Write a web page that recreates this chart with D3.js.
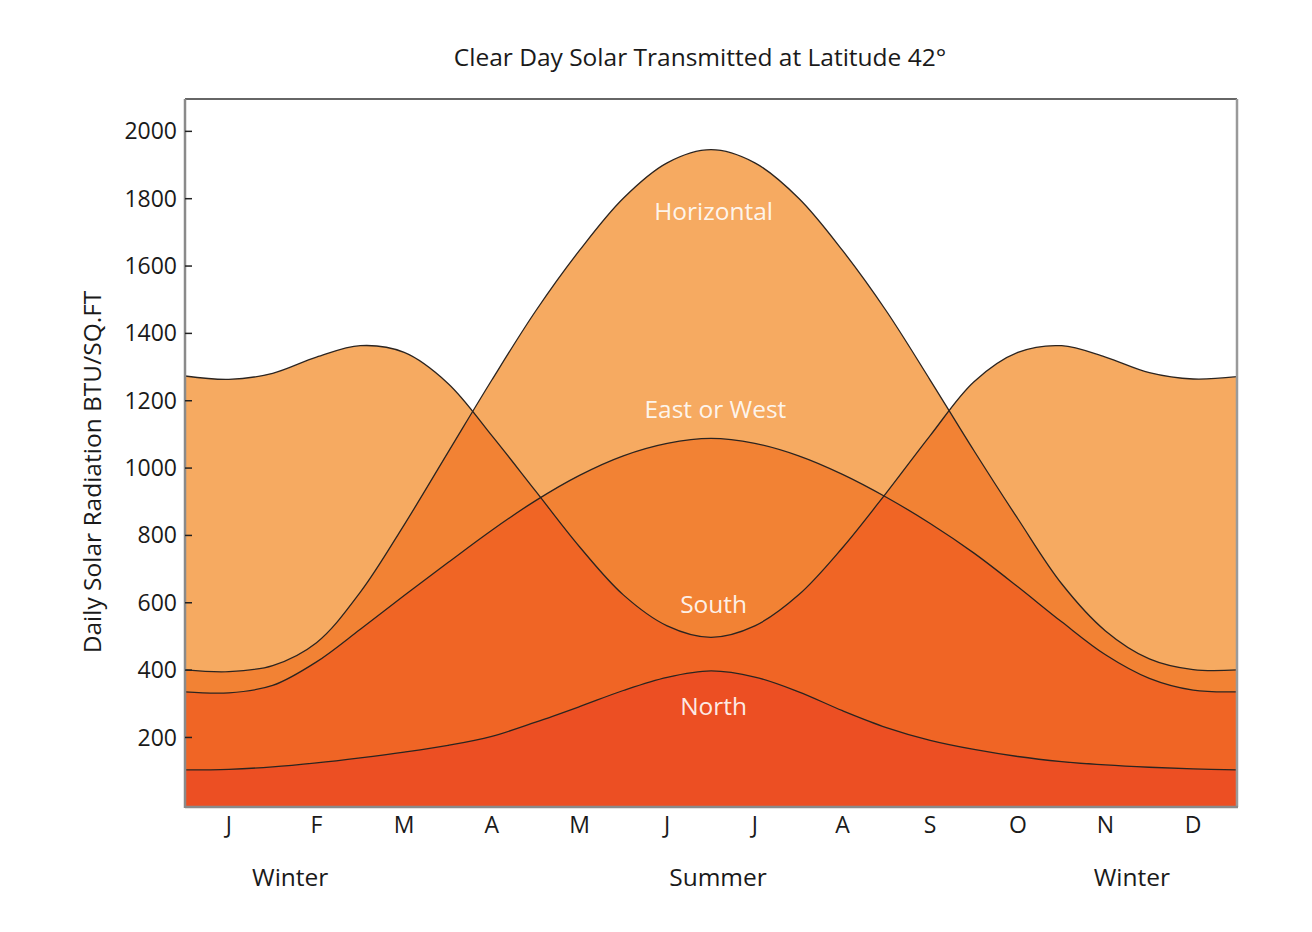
<!DOCTYPE html>
<html>
<head>
<meta charset="utf-8">
<script src="https://cdn.jsdelivr.net/npm/d3@7"></script>
<style>
  body { margin: 0; background: #fff; }
  text { font-family: "Open Sans", Lato, sans-serif; }
</style>
</head>
<body>
<svg id="chart" width="1312" height="932"></svg>
<script>
// Month initials along the bottom axis
const months = ["J", "F", "M", "A", "M", "J", "J", "A", "S", "O", "N", "D"];

// Sample positions through the year, in months from Jan 1 (0) to Dec 31 (12)
const xKnots = [0, 0.5, 1, 1.5, 2, 2.5, 3, 3.5, 4, 4.5, 5, 5.5, 6,
                6.5, 7, 7.5, 8, 8.5, 9, 9.5, 10, 10.5, 11, 11.5, 12];

// Daily clear-day radiation, BTU/sq.ft
const horizontal = [399, 394, 412, 480, 630, 830, 1045, 1260, 1465, 1645, 1800, 1905, 1944,
                    1905, 1800, 1645, 1465, 1260, 1050, 848, 655, 515, 432, 400, 399];
const south      = [1272, 1262, 1280, 1328, 1362, 1342, 1250, 1095, 930, 765, 622, 530, 496,
                    530, 622, 762, 925, 1095, 1255, 1342, 1362, 1328, 1282, 1263, 1270];
const eastWest   = [334, 331, 353, 423, 520, 620, 718, 814, 902, 977, 1035, 1072, 1087,
                    1072, 1035, 980, 912, 834, 746, 646, 542, 444, 374, 339, 334];
const north      = [102, 104, 111, 123, 138, 155, 175, 202, 244, 290, 338, 377, 396,
                    378, 334, 278, 228, 190, 163, 142, 127, 117, 110, 105, 102];

const yTicks = [200, 400, 600, 800, 1000, 1200, 1400, 1600, 1800, 2000];

// In-plot series names, anchored mid-year at a radiation level
const seriesLabels = [
  { text: "Horizontal",   month: 6.03, value: 1760 },
  { text: "East or West", month: 6.05, value: 1172 },
  { text: "South",        month: 6.03, value: 594 },
  { text: "North",        month: 6.03, value: 291 }
];
// Season captions below the month axis
const seasons = [
  { text: "Winter", month: 1.2 },
  { text: "Summer", month: 6.08 },
  { text: "Winter", month: 10.8 }
];

const fills = ["#F6AA61", "#F28234", "#F06525", "#EC4F23"];

const svg = d3.select("#chart");
const plotLeft = 185, plotRight = 1237, plotTop = 99, plotBottom = 807;

const x = d3.scaleLinear().domain([0, 12]).range([plotLeft, plotRight]);
const xBand = d3.scaleBand().domain(d3.range(12)).range([plotLeft, plotRight]);
const y = d3.scaleLinear().domain([-8, 2094.6]).range([plotBottom, plotTop]);

const rows = s => xKnots.map((m, i) => [m, s[i]]);
const H = rows(horizontal), S = rows(south), EW = rows(eastWest), N = rows(north);

const curve = d3.curveCatmullRom.alpha(0.5);
const area = d3.area().x(d => x(d[0])).y0(y.range()[0]).y1(d => y(d[1])).curve(curve);
const line = d3.line().x(d => x(d[0])).y(d => y(d[1])).curve(curve);

const defs = svg.append("defs");
defs.append("clipPath").attr("id", "clip-h").append("path").attr("d", area(H));
defs.append("clipPath").attr("id", "clip-s").append("path").attr("d", area(S));

// Shade by how many surfaces reach each level: 1 (lightest) to 4 (darkest)
const g = svg.append("g");
g.append("path").attr("d", area(H)).attr("fill", fills[0]);
g.append("path").attr("d", area(S)).attr("fill", fills[0]);

g.append("path").attr("d", area(EW)).attr("fill", fills[1]);
g.append("g").attr("clip-path", "url(#clip-s)")
  .append("path").attr("d", area(H)).attr("fill", fills[1]);

g.append("g").attr("clip-path", "url(#clip-h)")
  .append("g").attr("clip-path", "url(#clip-s)")
  .append("path").attr("d", area(EW)).attr("fill", fills[2]);

g.append("path").attr("d", area(N)).attr("fill", fills[3]);

// Outlines
[H, S, EW, N].forEach(s => {
  g.append("path").attr("d", line(s)).attr("fill", "none")
    .attr("stroke", "#2b2420").attr("stroke-width", 1.3);
});

// Frame: dark top edge, grey remaining edges
svg.append("line").attr("x1", plotLeft).attr("x2", plotRight).attr("y1", plotTop).attr("y2", plotTop)
  .attr("stroke", "#333").attr("stroke-width", 1.5);
svg.append("line").attr("x1", plotRight).attr("x2", plotRight).attr("y1", plotTop).attr("y2", plotBottom)
  .attr("stroke", "#9a9a9a").attr("stroke-width", 2.5);
svg.append("line").attr("x1", plotLeft).attr("x2", plotRight + 1).attr("y1", plotBottom).attr("y2", plotBottom)
  .attr("stroke", "#8a8a8a").attr("stroke-width", 2.5);

// Y axis with inward ticks
const yAxis = svg.append("g").attr("transform", `translate(${plotLeft},0)`)
  .call(d3.axisRight(y).tickValues(yTicks).tickSize(7).tickFormat(d3.format("d")));
yAxis.select(".domain").attr("stroke", "#8a8a8a").attr("stroke-width", 2.5)
  .attr("d", `M0,${plotTop}V${plotBottom + 1}`);
yAxis.selectAll(".tick line").attr("stroke", "#222").attr("stroke-width", 1.5);
yAxis.selectAll(".tick text").attr("x", -8).attr("text-anchor", "end")
  .attr("fill", "#1a1a1a").style("font-size", "23px").attr("dy", "0.35em");

// Month axis
const xAxis = svg.append("g").attr("transform", `translate(0,${plotBottom})`)
  .call(d3.axisBottom(xBand).tickSize(0).tickFormat(i => months[i]));
xAxis.select(".domain").remove();
xAxis.selectAll(".tick text").attr("y", 10).attr("dy", "0.71em")
  .attr("fill", "#1a1a1a").style("font-size", "23px");

// Season captions
svg.append("g").selectAll("text").data(seasons).join("text")
  .attr("x", d => x(d.month)).attr("y", 886)
  .attr("text-anchor", "middle").attr("fill", "#1a1a1a").style("font-size", "24.5px")
  .text(d => d.text);

// Series names
svg.append("g").selectAll("text").data(seriesLabels).join("text")
  .attr("x", d => x(d.month)).attr("y", d => y(d.value)).attr("dy", "0.35em")
  .attr("text-anchor", "middle").attr("fill", "#fff").attr("fill-opacity", 0.9)
  .style("font-size", "24.5px").text(d => d.text);

// Title
svg.append("text").attr("x", 700).attr("y", 66).attr("text-anchor", "middle")
  .attr("fill", "#1a1a1a").style("font-size", "24.5px")
  .text("Clear Day Solar Transmitted at Latitude 42°");

// Y axis title
svg.append("text")
  .attr("transform", `translate(101,472) rotate(-90)`)
  .attr("text-anchor", "middle").attr("fill", "#1a1a1a").style("font-size", "24.5px")
  .text("Daily Solar Radiation BTU/SQ.FT");
</script>
</body>
</html>
